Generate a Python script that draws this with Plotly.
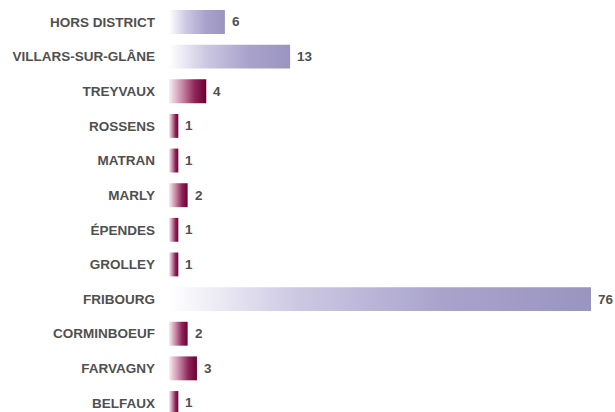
import plotly.graph_objects as go

# Category labels (top to bottom) and their counts
communes = [
    "HORS DISTRICT", "VILLARS-SUR-GLÂNE", "TREYVAUX", "ROSSENS", "MATRAN",
    "MARLY", "ÉPENDES", "GROLLEY", "FRIBOURG", "CORMINBOEUF", "FARVAGNY", "BELFAUX",
]
counts = [6, 13, 4, 1, 1, 2, 1, 1, 76, 2, 3, 1]

# Communes drawn in the lavender tone; all others use the wine tone
highlighted = {"HORS DISTRICT", "VILLARS-SUR-GLÂNE", "FRIBOURG"}

X_MAX = 45.3          # visible extent of the value axis (longer bars are capped)
HALF = 0.345          # half bar thickness in category units
TEXT_COLOR = "#505050"
FONT = "Liberation Sans, Arial, Helvetica, sans-serif"

LAVENDER = [[0, "#ffffff"], [0.3, "#cdc9e3"], [0.65, "#a9a3cc"], [1, "#9a94c1"]]
WINE = [[0, "#f9eef3"], [0.35, "#c88aa6"], [0.7, "#8d2357"], [1, "#6b0033"]]

fig = go.Figure()

for i, (name, v) in enumerate(zip(communes, counts)):
    scale = LAVENDER if name in highlighted else WINE
    fig.add_trace(go.Scatter(
        x=[0, v, v, 0, 0],
        y=[i - HALF, i - HALF, i + HALF, i + HALF, i - HALF],
        mode="lines",
        line=dict(width=0),
        fill="toself",
        fillgradient=dict(type="horizontal", colorscale=scale,
                          start=0, stop=min(v, X_MAX)),
        hoverinfo="skip",
        showlegend=False,
    ))
    # value label just past the end of the (possibly capped) bar
    fig.add_annotation(
        x=min(v, X_MAX), y=i, text=str(v),
        showarrow=False, xanchor="left", yanchor="middle",
        xshift=5,
        font=dict(family=FONT, size=13.5, color=TEXT_COLOR, weight="bold"),
    )

fig.update_layout(
    width=615, height=412,
    margin=dict(l=169, r=24, t=0, b=0),
    paper_bgcolor="white", plot_bgcolor="white",
    xaxis=dict(range=[0, X_MAX], visible=False, fixedrange=True),
    yaxis=dict(
        range=[11.26, -0.635],
        tickmode="array",
        tickvals=list(range(len(communes))),
        ticktext=communes,
        ticks="",
        showgrid=False, zeroline=False, showline=False,
        ticklabelstandoff=13,
        tickfont=dict(family=FONT, size=13.5, color=TEXT_COLOR, weight="bold"),
        fixedrange=True,
    ),
)

fig.write_html("out.html")
